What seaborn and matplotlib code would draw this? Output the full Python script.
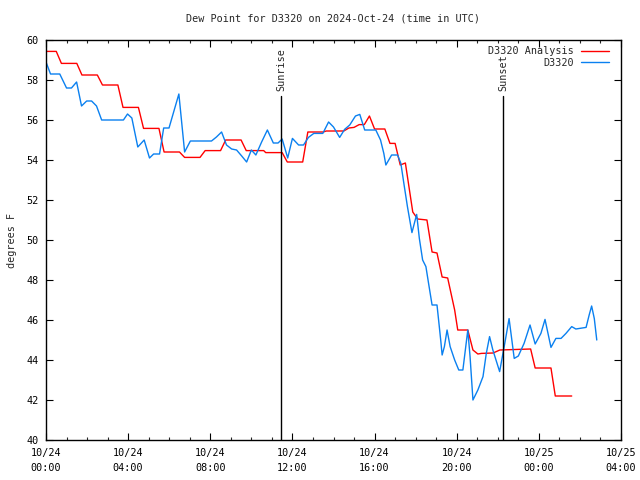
import pandas as pd
import numpy as np
import matplotlib
matplotlib.use("Agg")
import matplotlib.pyplot as plt
import matplotlib.dates as mdates
import seaborn as sns

# hours after 2024-10-24 00:00 UTC
red_hours = [0, 0.5, 0.75, 1.5, 1.75, 2.5, 2.75, 3.5, 3.75, 4.5,
             4.75, 5.5, 5.75, 6.5, 6.75, 7.5, 7.75, 8.5, 8.75, 9.5,
             9.75, 10.6, 10.7, 11.5, 11.75, 12.5, 12.75, 13.5, 13.65, 14.5,
             14.75, 15.0, 15.25, 15.5, 15.75, 16.0, 16.5, 16.75, 17.0, 17.25,
             17.5, 17.86, 18.1, 18.55, 18.8, 19.04, 19.29, 19.56, 19.73, 19.9,
             20.05, 20.54, 20.79, 21.03, 21.2, 21.77, 22.1, 23.6, 23.82, 24.59,
             24.8, 25.6]
red_vals = [59.43, 59.43, 58.83, 58.83, 58.25, 58.25, 57.75, 57.75, 56.63, 56.63,
            55.58, 55.58, 54.4, 54.4, 54.13, 54.13, 54.47, 54.47, 55.0, 55.0,
            54.47, 54.47, 54.37, 54.37, 53.9, 53.9, 55.4, 55.4, 55.45, 55.45,
            55.6, 55.63, 55.77, 55.77, 56.2, 55.55, 55.55, 54.83, 54.83, 53.75,
            53.85, 51.4, 51.05, 51.0, 49.4, 49.35, 48.15, 48.1, 47.3, 46.5,
            45.5, 45.5, 44.5, 44.3, 44.33, 44.35, 44.5, 44.55, 43.6, 43.6,
            42.2, 42.2]

blue_hours = [0.0, 0.22, 0.67, 1.0, 1.24, 1.49, 1.57, 1.73, 1.98, 2.22,
              2.46, 2.71, 3.77, 3.97, 4.18, 4.47, 4.78, 5.04, 5.24, 5.53,
              5.73, 5.99, 6.47, 6.75, 7.03, 8.06, 8.3, 8.55, 8.79, 9.04,
              9.28, 9.53, 9.77, 10.0, 10.22, 10.5, 10.78, 11.07, 11.3, 11.5,
              11.77, 12.0, 12.3, 12.54, 12.78, 13.04, 13.48, 13.76, 14.0, 14.3,
              14.54, 14.79, 15.07, 15.28, 15.52, 16.06, 16.29, 16.45, 16.55, 16.83,
              17.12, 17.28, 17.45, 17.6, 17.82, 18.05, 18.18, 18.34, 18.5, 18.63,
              18.8, 19.04, 19.12, 19.23, 19.29, 19.4, 19.53, 19.68, 19.9, 20.1,
              20.3, 20.54, 20.65, 20.79, 21.03, 21.28, 21.44, 21.6, 21.76, 22.09,
              22.34, 22.55, 22.8, 23.0, 23.28, 23.57, 23.82, 24.1, 24.3, 24.59,
              24.83, 25.08, 25.32, 25.6, 25.8, 26.3, 26.45, 26.57, 26.7, 26.82]
blue_vals = [58.9, 58.3, 58.3, 57.6, 57.6, 57.9, 57.5, 56.7, 56.95, 56.95,
             56.7, 56.0, 56.0, 56.3, 56.1, 54.65, 55.0, 54.1, 54.3, 54.3,
             55.6, 55.6, 57.3, 54.4, 54.95, 54.95, 55.15, 55.4, 54.75, 54.55,
             54.5, 54.2, 53.9, 54.5, 54.25, 54.9, 55.5, 54.85, 54.85, 55.05,
             54.1, 55.08, 54.75, 54.75, 55.13, 55.33, 55.33, 55.9, 55.65, 55.13,
             55.53, 55.75, 56.2, 56.28, 55.5, 55.5, 55.0, 54.33, 53.75, 54.25,
             54.25, 53.83, 52.67, 51.67, 50.37, 51.28, 50.08, 49.0, 48.67, 47.83,
             46.75, 46.75, 45.98, 44.9, 44.25, 44.67, 45.5, 44.67, 44.0, 43.5,
             43.5, 45.5, 44.17, 42.0, 42.5, 43.17, 44.33, 45.17, 44.5, 43.42,
             44.83, 46.07, 44.08, 44.2, 44.83, 45.75, 44.8, 45.33, 46.03, 44.63,
             45.08, 45.08, 45.33, 45.67, 45.55, 45.63, 46.25, 46.7, 46.07, 45.0]

sunrise_hour = 11.46
sunset_hour = 22.27

base = pd.Timestamp("2024-10-24 00:00")
df_red = pd.DataFrame({"time": base + pd.to_timedelta(red_hours, unit="h"), "dewpt": red_vals})
df_blue = pd.DataFrame({"time": base + pd.to_timedelta(blue_hours, unit="h"), "dewpt": blue_vals})

sns.set_style("ticks")
plt.rcParams['font.family'] = ['DejaVu Sans Mono']
fs = 7.3

fig = plt.figure(figsize=(6.4, 4.8), dpi=100)
ax = fig.add_axes([46 / 640, 40 / 480, 575 / 640, 400 / 480])

sns.lineplot(data=df_red, x="time", y="dewpt", color="#ff0000", linewidth=1.0,
             estimator=None, label="D3320 Analysis", ax=ax)
sns.lineplot(data=df_blue, x="time", y="dewpt", color="#0a80f0", linewidth=1.0,
             estimator=None, label="D3320", ax=ax)

# sunrise / sunset markers
for hr, name in [(sunrise_hour, "Sunrise"), (sunset_hour, "Sunset")]:
    t = base + pd.Timedelta(hours=hr)
    ax.plot([t, t], [40, 57.2], color="black", linewidth=1.0)
    ax.text(t, 57.45, name, rotation=90, ha="center", va="bottom", fontsize=fs)

ax.set_xlim(base, base + pd.Timedelta(hours=28))
ax.set_ylim(40, 60)
ax.set_yticks(np.arange(40, 61, 2))
ax.xaxis.set_major_locator(mdates.HourLocator(byhour=[0, 4, 8, 12, 16, 20]))
ax.xaxis.set_minor_locator(mdates.HourLocator())
ax.xaxis.set_major_formatter(mdates.DateFormatter("%m/%d\n%H:%M"))

ax.tick_params(axis="both", which="major", direction="in", length=5, width=0.8,
               top=True, right=True, labelsize=fs, pad=5, colors="black")
ax.tick_params(axis="x", which="minor", direction="in", length=2.5, width=0.8,
               top=True, bottom=True)
ax.tick_params(axis="x", which="major", pad=6)
for sp in ax.spines.values():
    sp.set_color("black")
    sp.set_linewidth(1.0)

ax.set_xlabel("")
ax.set_ylabel("degrees F", fontsize=fs)
ax.yaxis.set_label_coords(-0.05, 0.5)
ax.set_title("Dew Point for D3320 on 2024-Oct-24 (time in UTC)", fontsize=fs, pad=13)

leg = ax.legend(loc="upper right", frameon=False, markerfirst=False, fontsize=fs,
                handlelength=2.8, handletextpad=0.7, labelspacing=0.15,
                borderaxespad=0.2, bbox_to_anchor=(0.99, 1.0))

fig.canvas.draw()
for lbl in ax.get_xticklabels():
    lbl.set_linespacing(1.6)

fig.savefig("out.png", dpi=100)
